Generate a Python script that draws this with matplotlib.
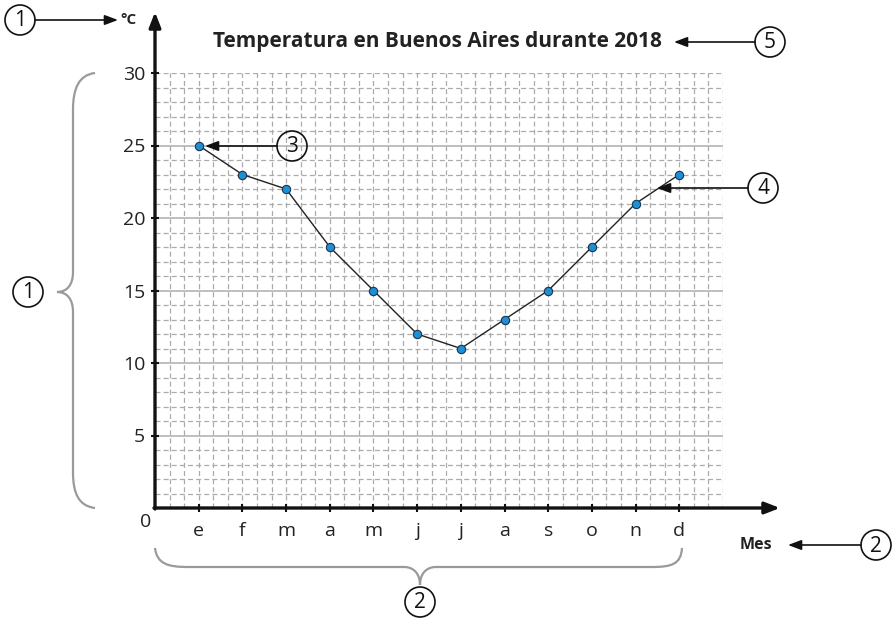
import matplotlib.pyplot as plt
import numpy as np
from matplotlib.patches import Circle, PathPatch
from matplotlib.path import Path

plt.rcParams['font.family'] = ['Open Sans', 'DejaVu Sans']

meses = ['e', 'f', 'm', 'a', 'm', 'j', 'j', 'a', 's', 'o', 'n', 'd']
temperaturas = [25, 23, 22, 18, 15, 12, 11, 13, 15, 18, 21, 23]
y_ticks = [5, 10, 15, 20, 25, 30]
titulo = 'Temperatura en Buenos Aires durante 2018'

W, H = 893, 621
fig = plt.figure(figsize=(W / 100, H / 100), dpi=100)
# ejes: origen en (155, 508) px, 30 grados en y=73, 13 meses hasta x=723
ax = fig.add_axes([155 / W, (H - 508) / H, (723 - 155) / W, (508 - 73) / H])
ax.set_xlim(0, 13)
ax.set_ylim(0, 30)

# cuadricula
grid_col = '#ababab'
for yv in range(1, 31):
    if yv % 5 == 0 and yv < 30:
        ax.axhline(yv, color='#b4b4b4', lw=1.2, zorder=1)
    else:
        ax.axhline(yv, color=grid_col, lw=0.9, ls=(0, (4, 2.5)), zorder=1)
for xv in np.arange(1, 40) / 3:
    ax.axvline(xv, color=grid_col, lw=0.9, ls=(0, (4, 2.5)), zorder=1)

x = np.arange(1, len(meses) + 1)
ax.plot(x, temperaturas, color='#222222', lw=1.0, zorder=3)
ax.plot(x, temperaturas, 'o', ms=6, mfc='#1e8fd2', mec='#1a3550', mew=0.8, zorder=4)

for s in ['top', 'right', 'left', 'bottom']:
    ax.spines[s].set_visible(False)
ax.set_xticks(x)
ax.set_xticklabels(meses, fontsize=14, color='#222222')
ax.set_yticks(y_ticks)
ax.set_yticklabels([str(v) for v in y_ticks], fontsize=14, color='#222222')
ax.tick_params(axis='both', direction='inout', length=6, width=1.5, color='#111111', pad=4)
ax.tick_params(axis='x', pad=7)

# capa de anotaciones en pixeles
ov = fig.add_axes([0, 0, 1, 1], zorder=10)
ov.set_xlim(0, W)
ov.set_ylim(H, 0)
ov.axis('off')
ov.patch.set_alpha(0)

# ejes con flecha
arrow = dict(arrowstyle='-|>,head_length=0.9,head_width=0.35', color='#111111', lw=2.4,
             shrinkA=0, shrinkB=0)
ov.annotate('', xy=(155, 12), xytext=(155, 509), arrowprops=arrow)
ov.annotate('', xy=(780, 508), xytext=(154, 508), arrowprops=arrow)
ov.text(146, 522, '0', fontsize=14, ha='center', va='center', color='#222222')

ov.text(437, 42, titulo, fontsize=15, fontweight='bold', ha='center', va='center', color='#222222')
ov.text(120, 20, '°C', fontsize=11, fontweight='bold', ha='left', va='center', color='#222222')
ov.text(756, 545, 'Mes', fontsize=11.5, fontweight='bold', ha='center', va='center', color='#222222')

thin = dict(arrowstyle='-|>,head_length=0.8,head_width=0.3', color='#111111', lw=1.2,
            shrinkA=0, shrinkB=0)


def circulo(cx, cy, txt):
    ov.add_patch(Circle((cx, cy), 15, fill=False, ec='#111111', lw=1.2))
    ov.text(cx, cy + 1, txt, fontsize=15, ha='center', va='center', color='#111111')


circulo(20, 20, '1')
ov.annotate('', xy=(118, 20), xytext=(35, 20), arrowprops=thin)
circulo(770, 42, '5')
ov.annotate('', xy=(674, 42), xytext=(755, 42), arrowprops=thin)
circulo(292, 146, '3')
ov.annotate('', xy=(205, 146), xytext=(277, 146), arrowprops=thin)
circulo(763, 188, '4')
ov.annotate('', xy=(657, 188), xytext=(748, 188), arrowprops=thin)
circulo(876, 545, '2')
ov.annotate('', xy=(788, 545), xytext=(861, 545), arrowprops=thin)
circulo(420, 602, '2')
circulo(28, 292, '1')

brace = '#9a9a9a'
M, L, C = Path.MOVETO, Path.LINETO, Path.CURVE4
abajo = [(155, 548), (157, 564), (168, 567), (188, 567), (404, 567),
         (414, 567), (420, 574), (420, 585),
         (420, 574), (426, 567), (436, 567), (652, 567),
         (672, 567), (681, 564), (682, 548)]
codes_ab = [M, C, C, C, L, C, C, C, C, C, C, L, C, C, C]
ov.add_patch(PathPatch(Path(abajo, codes_ab), fill=False, ec=brace, lw=1.6))

izq = [(95, 73), (79, 75), (73, 88), (73, 110), (73, 272),
       (73, 285), (67, 292), (57, 292),
       (67, 292), (73, 299), (73, 312), (73, 472),
       (73, 494), (79, 506), (95, 508)]
ov.add_patch(PathPatch(Path(izq, codes_ab), fill=False, ec=brace, lw=1.6))

fig.savefig('out.png', dpi=100)
